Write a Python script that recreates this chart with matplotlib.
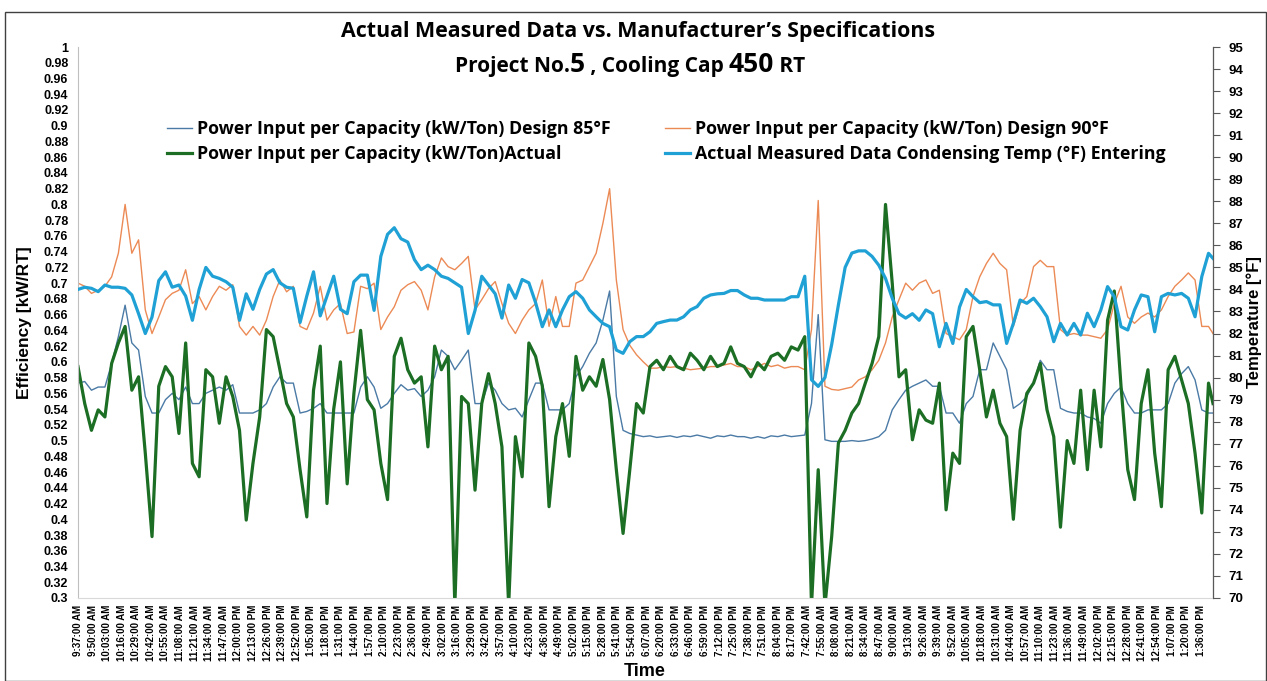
import numpy as np
import matplotlib
matplotlib.use('Agg')
import matplotlib.pyplot as plt
from matplotlib.lines import Line2D
from matplotlib.patches import Rectangle

###############################################################################
# Data (one sample every 6 minutes-points)
###############################################################################
idx = np.append(np.arange(0, 1009, 6), 1012)

design85 = [
    0.573, 0.575, 0.564, 0.568, 0.568, 0.598, 0.632, 0.672, 0.624, 0.615,
    0.556, 0.535, 0.535, 0.552, 0.560, 0.552, 0.568, 0.547, 0.547, 0.560,
    0.564, 0.568, 0.564, 0.571, 0.535, 0.535, 0.535, 0.539, 0.547, 0.568,
    0.581, 0.573, 0.573, 0.535,
    0.537, 0.541, 0.547, 0.535, 0.535, 0.535, 0.535, 0.535, 0.568, 0.581,
    0.568, 0.541, 0.547, 0.560, 0.571, 0.564, 0.566, 0.556, 0.564, 0.581,
    0.615, 0.607, 0.590, 0.602, 0.615, 0.547, 0.547, 0.573, 0.564, 0.547,
    0.539, 0.541, 0.530, 0.552,
    0.573, 0.573, 0.539, 0.539, 0.539, 0.547, 0.581, 0.594, 0.611, 0.624,
    0.653, 0.690, 0.556, 0.513, 0.509, 0.507, 0.505, 0.506, 0.504, 0.505,
    0.506, 0.504, 0.506, 0.505, 0.507, 0.505, 0.503, 0.506, 0.505, 0.507,
    0.505, 0.505, 0.503,
    0.505, 0.503, 0.506, 0.505, 0.507, 0.505, 0.506, 0.507, 0.547, 0.660,
    0.501, 0.499, 0.499, 0.499, 0.500, 0.499, 0.500, 0.502, 0.505, 0.513,
    0.539, 0.552, 0.564, 0.569, 0.573, 0.577, 0.569, 0.569, 0.535, 0.535,
    0.522, 0.547, 0.556, 0.590,
    0.590, 0.624, 0.607, 0.590, 0.541, 0.547, 0.556, 0.573, 0.602, 0.590,
    0.590, 0.541, 0.537, 0.535, 0.535, 0.530, 0.528, 0.522, 0.547, 0.560,
    0.568, 0.547, 0.535, 0.535, 0.539, 0.539, 0.539, 0.547, 0.573, 0.585,
    0.594, 0.577, 0.539, 0.535, 0.535,
]
design90 = [
    0.700, 0.696, 0.687, 0.691, 0.696, 0.708, 0.738, 0.800, 0.738, 0.755,
    0.666, 0.636, 0.657, 0.679, 0.687, 0.691, 0.717, 0.674, 0.683, 0.666,
    0.683, 0.696, 0.691, 0.698, 0.645, 0.634, 0.645, 0.634, 0.653, 0.683,
    0.704, 0.689, 0.696, 0.645,
    0.641, 0.662, 0.696, 0.653, 0.666, 0.674, 0.636, 0.638, 0.696, 0.693,
    0.700, 0.641, 0.657, 0.670, 0.691, 0.698, 0.702, 0.691, 0.666, 0.708,
    0.732, 0.721, 0.717, 0.725, 0.734, 0.666, 0.679, 0.693, 0.702, 0.674,
    0.649, 0.636, 0.653, 0.666,
    0.674, 0.704, 0.645, 0.683, 0.645, 0.645, 0.700, 0.704, 0.721, 0.738,
    0.776, 0.820, 0.704, 0.641, 0.621, 0.609, 0.600, 0.592, 0.592, 0.594,
    0.593, 0.594, 0.592, 0.590, 0.591, 0.592, 0.594, 0.594, 0.596, 0.598,
    0.594, 0.594, 0.590,
    0.594, 0.598, 0.594, 0.596, 0.592, 0.594, 0.594, 0.590, 0.641, 0.805,
    0.569, 0.565, 0.564, 0.566, 0.568, 0.577, 0.581, 0.590, 0.602, 0.624,
    0.657, 0.679, 0.700, 0.691, 0.700, 0.704, 0.687, 0.691, 0.636, 0.632,
    0.628, 0.641, 0.683, 0.708,
    0.725, 0.738, 0.725, 0.717, 0.645, 0.674, 0.683, 0.721, 0.729, 0.721,
    0.721, 0.641, 0.634, 0.636, 0.634, 0.634, 0.632, 0.630, 0.641, 0.674,
    0.696, 0.657, 0.649, 0.657, 0.662, 0.657, 0.666, 0.683, 0.696, 0.704,
    0.713, 0.704, 0.645, 0.645, 0.636,
]
actual = [
    0.594, 0.547, 0.513, 0.539, 0.530, 0.598, 0.624, 0.645, 0.564, 0.581,
    0.484, 0.378, 0.569, 0.594, 0.581, 0.509, 0.624, 0.471, 0.454, 0.590,
    0.581, 0.522, 0.581, 0.556, 0.513, 0.399, 0.471, 0.530, 0.641, 0.632,
    0.590, 0.547, 0.530, 0.463,
    0.403, 0.564, 0.620, 0.420, 0.540, 0.600, 0.445, 0.560, 0.640, 0.552,
    0.539, 0.471, 0.425, 0.607, 0.630, 0.590, 0.573, 0.581, 0.492, 0.620,
    0.590, 0.607, 0.290, 0.556, 0.547, 0.437, 0.547, 0.585, 0.547, 0.492,
    0.290, 0.505, 0.454, 0.624,
    0.607, 0.569, 0.416, 0.505, 0.547, 0.480, 0.607, 0.564, 0.581, 0.569,
    0.603, 0.552, 0.463, 0.382, 0.463, 0.547, 0.535, 0.594, 0.602, 0.590,
    0.607, 0.594, 0.590, 0.611, 0.602, 0.590, 0.607, 0.594, 0.598, 0.619,
    0.598, 0.594, 0.581,
    0.599, 0.590, 0.607, 0.611, 0.602, 0.619, 0.615, 0.632, 0.290, 0.463,
    0.290, 0.378, 0.497, 0.513, 0.535, 0.547, 0.573, 0.598, 0.632, 0.800,
    0.700, 0.581, 0.590, 0.501, 0.539, 0.526, 0.522, 0.573, 0.412, 0.484,
    0.471, 0.632, 0.645, 0.590,
    0.530, 0.564, 0.522, 0.505, 0.400, 0.513, 0.560, 0.573, 0.598, 0.539,
    0.505, 0.390, 0.500, 0.471, 0.564, 0.463, 0.564, 0.492, 0.653, 0.690,
    0.569, 0.463, 0.425, 0.547, 0.590, 0.484, 0.416, 0.590, 0.607, 0.577,
    0.547, 0.484, 0.408, 0.573, 0.547,
]
cond_temp = [
    84.0, 84.1, 84.05, 83.9, 84.2, 84.1, 84.1, 84.05, 83.75, 82.9,
    82.0, 82.75, 84.4, 84.8, 84.1, 84.2, 83.7, 82.6, 84.0, 85.0,
    84.6, 84.5, 84.35, 84.1, 82.6, 83.8, 83.1, 84.0, 84.7, 84.9,
    84.3, 84.1, 84.05, 82.5,
    83.7, 84.8, 82.8, 83.7, 84.6, 83.1, 82.9, 84.35, 84.65, 84.65,
    83.05, 85.5, 86.5, 86.8, 86.3, 86.15, 85.35, 84.9, 85.1, 84.9,
    84.6, 84.5, 84.3, 84.1, 82.0, 83.05, 84.6, 84.2, 83.8, 82.7,
    84.2, 83.6, 84.45, 84.3,
    83.4, 82.31, 83.07, 82.31, 83.07, 83.67, 83.9, 83.6, 83.07, 82.76,
    82.46, 82.31, 81.25, 81.1, 81.63, 81.86, 81.86, 82.08, 82.46, 82.54,
    82.61, 82.61, 82.76, 83.07, 83.22, 83.6, 83.75, 83.8, 83.82, 83.95,
    83.95, 83.75, 83.6,
    83.6, 83.52, 83.52, 83.52, 83.52, 83.67, 83.67, 84.6, 79.9, 79.6,
    80.0, 81.5, 83.3, 85.0, 85.65, 85.75, 85.75, 85.5, 85.1, 84.5,
    83.6, 82.9, 82.7, 82.9, 82.6, 83.07, 82.9, 81.4, 82.46, 81.55,
    83.2, 84.0, 83.67, 83.4,
    83.45, 83.3, 83.3, 81.55, 82.46, 83.52, 83.37, 83.6, 83.22, 82.76,
    81.63, 82.46, 81.93, 82.46, 81.93, 82.92, 82.31, 83.07, 84.13, 83.67,
    82.31, 82.16, 83.07, 83.75, 83.67, 82.08, 83.67, 83.82, 83.75, 83.82,
    83.6, 82.76, 84.58, 85.64, 85.41,
]

time_labels = [
    '9:37:00 AM', '9:50:00 AM', '10:03:00 AM', '10:16:00 AM', '10:29:00 AM',
    '10:42:00 AM', '10:55:00 AM', '11:08:00 AM', '11:21:00 AM', '11:34:00 AM',
    '11:47:00 AM', '12:00:00 PM', '12:13:00 PM', '12:26:00 PM', '12:39:00 PM',
    '12:52:00 PM', '1:05:00 PM', '1:18:00 PM', '1:31:00 PM', '1:44:00 PM',
    '1:57:00 PM', '2:10:00 PM', '2:23:00 PM', '2:36:00 PM', '2:49:00 PM',
    '3:02:00 PM', '3:16:00 PM', '3:29:00 PM', '3:42:00 PM', '3:57:00 PM',
    '4:10:00 PM', '4:23:00 PM', '4:36:00 PM', '4:49:00 PM', '5:02:00 PM',
    '5:15:00 PM', '5:28:00 PM', '5:41:00 PM', '5:54:00 PM', '6:07:00 PM',
    '6:20:00 PM', '6:33:00 PM', '6:46:00 PM', '6:59:00 PM', '7:12:00 PM',
    '7:25:00 PM', '7:38:00 PM', '7:51:00 PM', '8:04:00 PM', '8:17:00 PM',
    '7:42:00 AM', '7:55:00 AM', '8:08:00 AM', '8:21:00 AM', '8:34:00 AM',
    '8:47:00 AM', '9:00:00 AM', '9:13:00 AM', '9:26:00 AM', '9:39:00 AM',
    '9:52:00 AM', '10:05:00 AM', '10:18:00 AM', '10:31:00 AM', '10:44:00 AM',
    '10:57:00 AM', '11:10:00 AM', '11:23:00 AM', '11:36:00 AM', '11:49:00 AM',
    '12:02:00 PM', '12:15:00 PM', '12:28:00 PM', '12:41:00 PM', '12:54:00 PM',
    '1:07:00 PM', '1:20:00 PM', '1:36:00 PM',
]
LABEL_EVERY = 13
N_POINTS = 1013

###############################################################################
# Style
###############################################################################
(W, H, DPI) = (1267, 681, 100)
TICK_FONT = 'Liberation Sans'
TITLE_FONT = 'Open Sans'
C85, C90 = '#4a7aa5', '#ec8a55'
CACT, CTMP = '#1c6e24', '#1fa1d5'

fig = plt.figure(figsize=(W / DPI, H / DPI), dpi=DPI)
fig.patch.set_facecolor('white')
fig.add_artist(Rectangle((5 / W, 0.0), 1261 / W, 1 - 12 / H, transform=fig.transFigure,
                         fill=False, edgecolor='#404040', linewidth=1.0))

ax = fig.add_axes([78 / W, 1 - 598 / H, (1213 - 78) / W, (598 - 47) / H])
ax2 = ax.twinx()

ax.plot(idx, design85, color=C85, lw=1.0)
ax.plot(idx, design90, color=C90, lw=1.0)
ax.plot(idx, actual, color=CACT, lw=2.3)
ax2.plot(idx, cond_temp, color=CTMP, lw=2.3)

ax.set_xlim(0, N_POINTS - 1)
ax.set_ylim(0.3, 1.0)
ax2.set_ylim(70, 95)

yt = np.round(np.arange(0.3, 1.0001, 0.02), 2)
ax.set_yticks(yt)
ax.set_yticklabels([f'{v:.2f}'.rstrip('0').rstrip('.') for v in yt],
                   fontfamily=TICK_FONT, fontweight='bold', fontsize=9)
ax.tick_params(axis='y', length=0, pad=7)
ax2.set_yticks(np.arange(70, 96, 1))
ax2.set_yticklabels([str(v) for v in range(70, 96)],
                    fontfamily=TICK_FONT, fontweight='bold', fontsize=9.5)
ax2.tick_params(axis='y', length=5, width=0.8, color='#595959', pad=6)

xt = np.arange(len(time_labels)) * LABEL_EVERY
ax.set_xticks(xt)
ax.set_xticklabels(time_labels, rotation=90, fontfamily=TICK_FONT,
                   fontweight='bold', fontsize=7)
ax.tick_params(axis='x', length=0, pad=5)

for a in (ax, ax2):
    a.spines['top'].set_visible(False)
ax.spines['left'].set_color('#bfbfbf')
ax.spines['bottom'].set_color('#d9d9d9')
ax2.spines['left'].set_visible(False)
ax2.spines['bottom'].set_visible(False)
ax2.spines['right'].set_color('#595959')

ax.set_ylabel('Efficiency [kW/RT]', fontfamily=TICK_FONT, fontweight='bold',
              fontsize=12.5, labelpad=8)
ax2.set_ylabel('Temperature [°F]', fontfamily=TICK_FONT, fontweight='bold',
               fontsize=12, labelpad=2, rotation=90)
fig.text(645 / W, 1 - 672 / H, 'Time', ha='center', va='center',
         fontfamily=TICK_FONT, fontweight='bold', fontsize=13)

###############################################################################
# Titles
###############################################################################
fig.text(638 / W, 1 - 32 / H, 'Actual Measured Data vs. Manufacturer\u2019s Specifications',
         ha='center', va='center', fontfamily=TITLE_FONT, fontweight='bold', fontsize=15.4)

parts = [('Project No.', 15), ('5', 19), (' , Cooling Cap ', 15), ('450', 19), (' RT', 15)]
renderer = fig.canvas.get_renderer()
texts = []
for (s, fs) in parts:
    t = fig.text(0, 1 - 72 / H, s, ha='left', va='baseline', fontfamily=TITLE_FONT,
                 fontweight='bold', fontsize=fs)
    texts.append(t)
widths = [t.get_window_extent(renderer).width for t in texts]
x0 = 630 - sum(widths) / 2
for (t, w) in zip(texts, widths):
    t.set_x(x0 / W)
    x0 += w

###############################################################################
# Legend
###############################################################################
h85 = Line2D([], [], color=C85, lw=1.0)
h90 = Line2D([], [], color=C90, lw=1.0)
hact = Line2D([], [], color=CACT, lw=2.3)
htmp = Line2D([], [], color=CTMP, lw=2.3)
legkw = dict(frameon=False, prop={'family': TITLE_FONT, 'weight': 'bold', 'size': 12.8},
             handlelength=1.4, handletextpad=0.3, labelspacing=0.38, borderpad=0,
             borderaxespad=0, bbox_transform=fig.transFigure, loc='upper left')
leg1 = ax2.legend([h85, hact], ['Power Input per Capacity (kW/Ton) Design 85°F',
                                'Power Input per Capacity (kW/Ton)Actual'],
                  bbox_to_anchor=(167 / W, 1 - 120 / H), **legkw)
ax2.add_artist(leg1)
ax2.legend([h90, htmp], ['Power Input per Capacity (kW/Ton) Design 90°F',
                         'Actual Measured Data Condensing Temp (°F) Entering'],
           bbox_to_anchor=(665 / W, 1 - 120 / H), **legkw)

fig.savefig('out.png', dpi=DPI, facecolor='white')
plt.close('all')
